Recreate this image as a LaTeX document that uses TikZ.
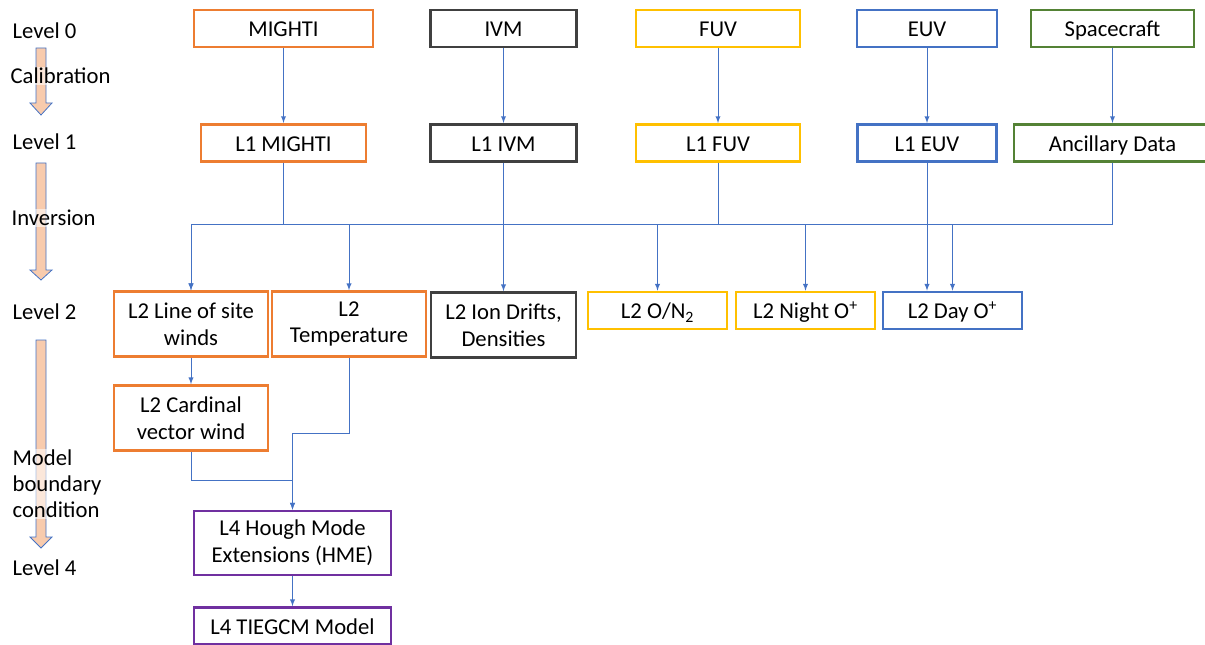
\documentclass[tikz,border=0pt]{standalone}
\usepackage{fontspec}
\setmainfont{Carlito}
\usetikzlibrary{positioning, arrows}

\definecolor{mightiorange}{HTML}{ED7D31}
\definecolor{ivmgray}{HTML}{404040}
\definecolor{fuvgold}{HTML}{FFC000}
\definecolor{euvblue}{HTML}{4472C4}
\definecolor{scgreen}{HTML}{548235}
\definecolor{lvfpurple}{HTML}{7030A0}
\definecolor{peach}{HTML}{F8CBAD}

\tikzset{
  box/.style={draw=#1, line width=2pt, rectangle, align=center, inner sep=2pt,
              minimum height=27.75pt, font=\fontsize{17}{20}\selectfont},
  oneline/.style={text height=13.5pt, text depth=1pt},
  tall/.style={minimum height=48.75pt},
  link/.style={color=euvblue, line width=0.75pt, ->, >=latex},
  lvltext/.style={anchor=west, inner sep=1pt, align=left, font=\fontsize{17}{19.5}\selectfont},
  faded/.style={fill=white, fill opacity=0.55, text opacity=1},
  blockarr/.style={fill=peach, draw=euvblue, line width=0.6pt}
}

\begin{document}
\begin{tikzpicture}[x=0.75pt, y=-0.75pt]
        \useasboundingbox (0,0) rectangle (1205,645);

        % level arrows on the left
        \draw[blockarr] (36,48) -- (46,48) -- (46,103) -- (52,103) -- (41,115) -- (30,103) -- (36,103) -- cycle;
        \draw[blockarr] (36,163) -- (46,163) -- (46,270) -- (52,270) -- (41,280) -- (30,270) -- (36,270) -- cycle;
        \draw[blockarr] (36,340) -- (46,340) -- (46,537) -- (52,537) -- (41,548) -- (30,537) -- (36,537) -- cycle;

        \node[lvltext] (lvl0) at (11,31) {Level 0};
        \node[lvltext, faded] (calib) at (9,76) {Calibration};
        \node[lvltext] (lvl1) at (11,142) {Level 1};
        \node[lvltext, faded] (inv) at (10,218) {Inversion};
        \node[lvltext] (lvl2) at (11,312) {Level 2};
        \node[lvltext, faded] (mbc) at (11,484) {Model\\boundary\\condition};
        \node[lvltext] (lvl4) at (11,568) {Level 4};

        % level 0
        \node[box=mightiorange, oneline, minimum width=134.25pt] (mighti) at (283.5,28.5) {MIGHTI};
        \node[box=ivmgray, oneline, minimum width=109.5pt] (ivm) at (503.5,28.5) {IVM};
        \node[box=fuvgold, oneline, minimum width=123pt] (fuv) at (718,28.5) {FUV};
        \node[box=euvblue, oneline, minimum width=105pt] (euv) at (927,28.5) {EUV};
        \node[box=scgreen, oneline, minimum width=122.25pt] (sc) at (1112.5,28.5) {Spacecraft};

        % level 1
        \node[box=mightiorange, oneline, minimum width=123.75pt] (l1_mighti) [below=56pt of mighti] {L1 MIGHTI};
        \node[box=ivmgray, oneline, minimum width=109.5pt] (l1_ivm) [below=56pt of ivm] {L1 IVM};
        \node[box=fuvgold, oneline, minimum width=123pt] (l1_fuv) [below=56pt of fuv] {L1 FUV};
        \node[box=euvblue, oneline, minimum width=104.25pt] (l1_euv) [below=56pt of euv] {L1 EUV};
        \node[box=scgreen, oneline, minimum width=147.75pt] (anc) [below=56pt of sc] {Ancillary Data};

        % level 2
        \node[box=mightiorange, tall, minimum width=115.5pt] (l2_winds) at (191,324) {L2 Line of site\\winds};
        \node[box=mightiorange, tall, minimum width=115.5pt] (l2_temp) at (349,324) {L2\\Temperature};
        \node[box=ivmgray, tall, minimum width=108.75pt] (l2_ion) at (503.5,325) {L2 Ion Drifts,\\Densities};
        \node[box=fuvgold, oneline, minimum width=104.25pt] (l2_on2) at (657.5,310.5) {L2 O/N\textsubscript{2}};
        \node[box=fuvgold, oneline, minimum width=104.25pt] (l2_night) at (805.5,310.5) {L2 Night O\textsuperscript{+}};
        \node[box=euvblue, oneline, minimum width=104.25pt] (l2_day) at (952.5,310.5) {L2 Day O\textsuperscript{+}};
        \node[box=mightiorange, tall, minimum width=115.5pt] (l2_card) at (191,418) {L2 Cardinal\\vector wind};

        % level 4
        \node[box=lvfpurple, minimum width=147.75pt, minimum height=48pt] (l4_hme) at (292.5,543) {L4 Hough Mode\\Extensions (HME)};
        \node[box=lvfpurple, oneline, minimum width=147.75pt] (l4_tiegcm) at (292.5,626) {L4 TIEGCM Model};

        \coordinate (bus) at (0,225);
        \coordinate (tbend) at (0,433);
        \coordinate (cbend) at (0,480);

        \path[link]
                (mighti) edge (l1_mighti)
                (ivm) edge (l1_ivm)
                (fuv) edge (l1_fuv)
                (euv) edge (l1_euv)
                (sc) edge (anc)
                (l1_ivm) edge (l2_ion)
                (l2_winds) edge (l2_card)
                (l4_hme) edge (l4_tiegcm);
        \draw[link] (l1_mighti.south) |- (l2_winds.north |- bus) -- (l2_winds.north);
        \draw[link] (l1_mighti.south) |- (l2_temp.north |- bus) -- (l2_temp.north);
        \draw[link] (l1_fuv.south) |- (l2_on2.north |- bus) -- (l2_on2.north);
        \draw[link] (l1_fuv.south) |- (l2_night.north |- bus) -- (l2_night.north);
        \draw[link] (anc.south) |- (l2_day.north |- bus) -- (l2_day.north);
        \draw[link] (anc.south) |- (l2_winds.north |- bus) -- (l2_winds.north);
        \draw[link] (l1_euv.south) -- (l1_euv.south |- l2_day.north);
        \draw[link] (l2_temp.south) |- (l4_hme.north |- tbend) -- (l4_hme.north);
        \draw[link] (l2_card.south) |- (l4_hme.north |- cbend) -- (l4_hme.north);
    \end{tikzpicture}
\end{document}
